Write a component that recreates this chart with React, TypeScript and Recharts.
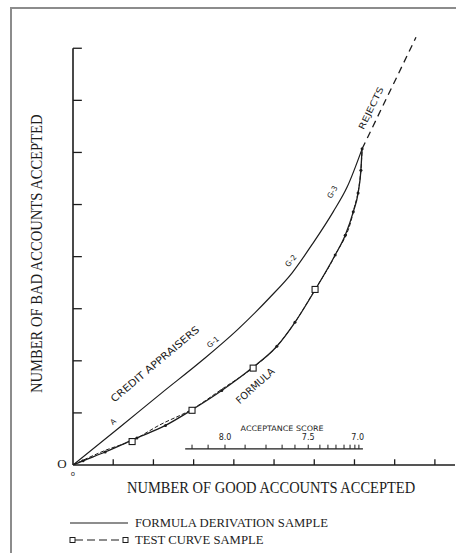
import { ComposedChart, Line, Scatter, XAxis, YAxis, ReferenceLine, ReferenceDot } from "recharts";

// Axis units: one tick step per unit on each axis
const xTicks = [1, 2, 3, 4, 5, 6, 7, 8, 9];
const yTicks = [1, 2, 3, 4, 5, 6, 7, 8];

// Credit appraisers curve (solid)
const appraiserGood = [0, 1.17, 2.2, 3.23, 4.08, 4.9, 5.45, 5.97, 6.47, 6.82, 7.19];
const appraiserBad = [0, 0.73, 1.38, 2.02, 2.59, 3.22, 3.69, 4.26, 4.86, 5.34, 6.07];

// Formula derivation sample
const formulaGood = [0, 0.25, 0.8, 1.59, 2.3, 2.96, 3.7, 4.45, 5.07, 5.52, 6.02, 6.52, 6.77, 6.97, 7.09, 7.16, 7.19];
const formulaBad = [0, 0.08, 0.25, 0.52, 0.76, 1.06, 1.43, 1.86, 2.28, 2.74, 3.36, 4.03, 4.41, 4.86, 5.22, 5.66, 6.07];

// Test curve sample (dashed) and its plotted squares
const testGood = [0, 0.8, 1.47, 2.16, 2.96, 3.71, 4.48, 5.07, 5.52, 6.02, 6.52, 6.97, 7.16, 7.19];
const testBad = [0, 0.28, 0.47, 0.77, 1.07, 1.46, 1.87, 2.28, 2.74, 3.37, 4.03, 4.86, 5.66, 6.07];
const squareGood = [1.47, 2.96, 4.48, 6.02];
const squareBad = [0.45, 1.05, 1.86, 3.37];

// Rejects extension
const rejectGood = [7.19, 8.53];
const rejectBad = [6.07, 8.21];

// Acceptance score scale drawn inside the plot
const scoreLineFrom = 2.79;
const scoreLineTo = 7.21;
const scoreLevel = 0.31;
const scoreTickGood = [2.96, 3.36, 3.78, 4.28, 4.8, 5.2, 5.52, 5.85, 6.14, 6.34, 6.54, 6.74, 6.89, 7.01, 7.11];
const scoreLabels = ["8.0", "7.5", "7.0"];
const scoreLabelGood = [3.78, 5.85, 7.08];

const zip = (g: number[], b: number[]) => g.map((good, i) => ({ good, bad: b[i] }));

const appraisers = zip(appraiserGood, appraiserBad);
const formula = zip(formulaGood, formulaBad);
const test = zip(testGood, testBad);
const squares = zip(squareGood, squareBad);
const rejects = zip(rejectGood, rejectBad);

const INK = "#1c1c1c";
const LETTER = "'DejaVu Sans', sans-serif";
const SERIF = "'Liberation Serif', 'Times New Roman', serif";

// rotated hand-lettered annotations
const notes = [
  { text: "CREDIT APPRAISERS", good: 2.04, bad: 1.94, angle: -40, size: 10, len: 112 },
  { text: "A", good: 1.0, bad: 0.83, angle: -40, size: 7.5 },
  { text: "G-1", good: 3.48, bad: 2.36, angle: -40, size: 7.5 },
  { text: "G-2", good: 5.42, bad: 3.92, angle: -50, size: 7.5 },
  { text: "G-3", good: 6.45, bad: 5.24, angle: -60, size: 7.5 },
  { text: "FORMULA", good: 4.53, bad: 1.52, angle: -42, size: 10, len: 48 },
  { text: "REJECTS", good: 7.41, bad: 6.85, angle: -64, size: 8.5, len: 46 },
  { text: "ACCEPTANCE SCORE", good: 5.2, bad: 0.71, angle: 0, size: 7.5, len: 83 },
];

type Note = { text: string; angle: number; size: number; len?: number };

const noteShape = (n: Note) => (p: any) => (
  <text
    x={p.cx}
    y={p.cy}
    transform={`rotate(${n.angle} ${p.cx} ${p.cy})`}
    textAnchor="middle"
    dominantBaseline="central"
    fontFamily={LETTER}
    fontSize={n.size}
    fill={INK}
    {...(n.len ? { textLength: n.len, lengthAdjust: "spacingAndGlyphs" } : {})}
  >
    {n.text}
  </text>
);

const openSquare = (p: any) => (
  <rect x={p.cx - 3} y={p.cy - 3} width={6} height={6} fill="#fff" stroke={INK} strokeWidth={1.1} />
);

export default function App() {
  return (
    <div style={{ position: "absolute", left: 0, top: 0, width: 456, height: 553, background: "#fff" }}>
      <div
        style={{
          position: "absolute",
          left: 10,
          top: 7,
          right: 0,
          bottom: 0,
          borderLeft: "2px solid #8c8c8c",
          borderTop: "2px solid #8c8c8c",
        }}
      />
      <div style={{ position: "absolute", left: 0, top: 0 }}>
        <ComposedChart width={456} height={553} margin={{ top: 17, right: 1, bottom: 88, left: 73 }}>
          <XAxis dataKey="good" type="number" domain={[0, 9.5]} hide allowDataOverflow />
          <YAxis dataKey="bad" type="number" domain={[0, 8.6]} hide allowDataOverflow />

          {/* axes with inward ticks */}
          <ReferenceLine y={0} stroke={INK} strokeWidth={1.6} />
          <ReferenceLine segment={[{ x: 0, y: 0 }, { x: 0, y: 8 }]} stroke={INK} strokeWidth={1.6} />
          {xTicks.map((t) => (
            <ReferenceLine key={`xt${t}`} segment={[{ x: t, y: 0 }, { x: t, y: 0.11 }]} stroke={INK} strokeWidth={1.3} />
          ))}
          {yTicks.map((t) => (
            <ReferenceLine key={`yt${t}`} segment={[{ x: 0, y: t }, { x: 0.22, y: t }]} stroke={INK} strokeWidth={1.3} />
          ))}

          {/* acceptance score scale */}
          <ReferenceLine
            segment={[{ x: scoreLineFrom, y: scoreLevel }, { x: scoreLineTo, y: scoreLevel }]}
            stroke={INK}
            strokeWidth={1.2}
          />
          {scoreTickGood.map((g) => (
            <ReferenceLine
              key={`st${g}`}
              segment={[{ x: g, y: scoreLevel }, { x: g, y: scoreLevel + 0.08 }]}
              stroke={INK}
              strokeWidth={1}
            />
          ))}
          {scoreLabels.map((s, i) => (
            <ReferenceDot
              key={`sl${s}`}
              x={scoreLabelGood[i]}
              y={scoreLevel + 0.22}
              r={0}
              shape={noteShape({ text: s, angle: 0, size: 8 })}
            />
          ))}

          <Line
            data={rejects}
            dataKey="bad"
            type="linear"
            stroke={INK}
            strokeWidth={1.3}
            strokeDasharray="7 5"
            dot={false}
            isAnimationActive={false}
          />
          <Line
            data={appraisers}
            dataKey="bad"
            type="monotone"
            stroke={INK}
            strokeWidth={1.2}
            dot={false}
            isAnimationActive={false}
          />
          <Line
            data={test}
            dataKey="bad"
            type="monotone"
            stroke={INK}
            strokeWidth={1}
            strokeDasharray="4 2"
            dot={false}
            isAnimationActive={false}
          />
          <Line
            data={formula}
            dataKey="bad"
            type="monotone"
            stroke={INK}
            strokeWidth={1.3}
            dot={{ r: 1.5, fill: INK, stroke: "none" }}
            isAnimationActive={false}
          />
          <Scatter data={squares} dataKey="bad" shape={openSquare} isAnimationActive={false} />

          {notes.map((n) => (
            <ReferenceDot key={n.text} x={n.good} y={n.bad} r={0} shape={noteShape(n)} />
          ))}
        </ComposedChart>
      </div>

      {/* titles, origin marks and legend */}
      <svg width={456} height={553} style={{ position: "absolute", left: 0, top: 0, pointerEvents: "none" }}>
        <text x={62} y={468} fontFamily={SERIF} fontSize={13} fill={INK} textAnchor="middle">
          O
        </text>
        <text x={73} y={476} fontFamily={LETTER} fontSize={7} fill={INK} textAnchor="middle">
          o
        </text>
        <text transform="translate(127 493) scale(0.853 1)" fontFamily={SERIF} fontSize={17} fill={INK}>
          NUMBER OF GOOD ACCOUNTS ACCEPTED
        </text>
        <text transform="translate(42 393) rotate(-90) scale(0.857 1)" fontFamily={SERIF} fontSize={17} fill={INK}>
          NUMBER OF BAD ACCOUNTS ACCEPTED
        </text>

        <line x1={70} y1={523} x2={128} y2={523} stroke={INK} strokeWidth={1.2} />
        <text x={135} y={527} fontFamily={SERIF} fontSize={12.7} fill={INK}>
          FORMULA DERIVATION SAMPLE
        </text>
        <line x1={75} y1={540} x2={123} y2={540} stroke={INK} strokeWidth={1.2} strokeDasharray="8 4" />
        <rect x={70} y={537.5} width={5} height={5} fill="#fff" stroke={INK} strokeWidth={1} />
        <rect x={123} y={537.5} width={5} height={5} fill="#fff" stroke={INK} strokeWidth={1} />
        <text x={135} y={544} fontFamily={SERIF} fontSize={12.7} fill={INK}>
          TEST CURVE SAMPLE
        </text>
      </svg>
    </div>
  );
}
